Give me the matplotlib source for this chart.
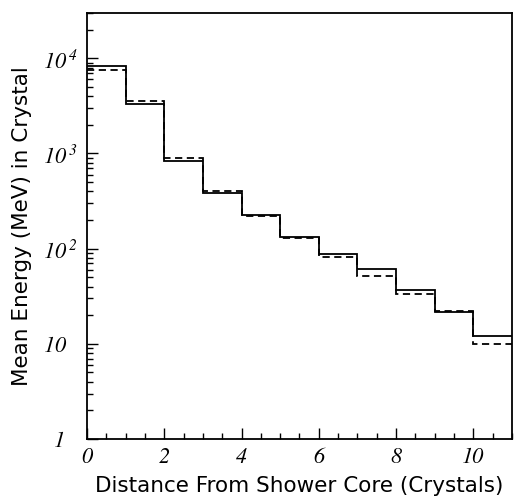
import matplotlib
matplotlib.use("Agg")
import matplotlib.pyplot as plt
import numpy as np
from matplotlib.ticker import FixedLocator, NullFormatter, LogLocator

edges = [0, 1, 2, 3, 4, 5, 6, 7, 8, 9, 10, 11]
solid_vals = [8300, 3300, 843, 388, 228, 133, 87, 61.5, 36.4, 21.7, 12.2]
dashed_vals = [7610, 3520, 907, 408, 221, 128, 81, 52, 33.6, 22.1, 10.0]

xticks = [0, 2, 4, 6, 8, 10]
xticklabels = ["0", "2", "4", "6", "8", "10"]
yticks = [1, 10, 100, 1000, 10000]
yticklabels = [r"$\ \ 1$", r"$10$", r"$10^{\;2}$", r"$10^{\;3}$", r"$10^{\;4}$"]

plt.rcParams['mathtext.fontset'] = 'custom'
plt.rcParams['mathtext.rm'] = 'STIXGeneral:italic'
plt.rcParams['mathtext.it'] = 'STIXGeneral:italic'
plt.rcParams['mathtext.default'] = 'rm'

fig = plt.figure(figsize=(5.15, 4.96), dpi=100)
ax = fig.add_axes([0.169, 0.115, 0.825, 0.859])

ax.stairs(solid_vals, edges, color="black", lw=1.3, baseline=None)
ax.stairs(dashed_vals, edges, color="black", lw=1.3, baseline=None,
          linestyle=(0, (4, 2.5)))

ax.set_yscale("log")
ax.set_xlim(0, 11)
ax.set_ylim(1, 30000)

ax.set_xticks(xticks)
ax.set_xticklabels(xticklabels, fontfamily="STIXGeneral", style="italic", fontsize=16)
ax.xaxis.set_minor_locator(FixedLocator(np.arange(0, 11.01, 0.5)))
ax.set_yticks(yticks)
ax.set_yticklabels(yticklabels, fontsize=16, ha="left")
ax.yaxis.set_minor_locator(LogLocator(base=10, subs=np.arange(2, 10)))
ax.yaxis.set_minor_formatter(NullFormatter())

ax.tick_params(which="both", direction="in", top=False, right=False, color="black")
ax.tick_params(which="major", length=8, width=1.0)
ax.tick_params(which="minor", length=4.5, width=1.0)
ax.tick_params(axis="x", which="major", pad=6)
ax.tick_params(axis="y", which="major", pad=32)

for s in ax.spines.values():
    s.set_linewidth(1.3)

ax.set_xlabel("Distance From Shower Core (Crystals)", fontsize=15.5)
ax.set_ylabel("Mean Energy (MeV) in Crystal", fontsize=15.5)
ax.xaxis.set_label_coords(0.5, -0.087)
ax.yaxis.set_label_coords(-0.129, 0.5)

fig.savefig("out.png", dpi=100)
